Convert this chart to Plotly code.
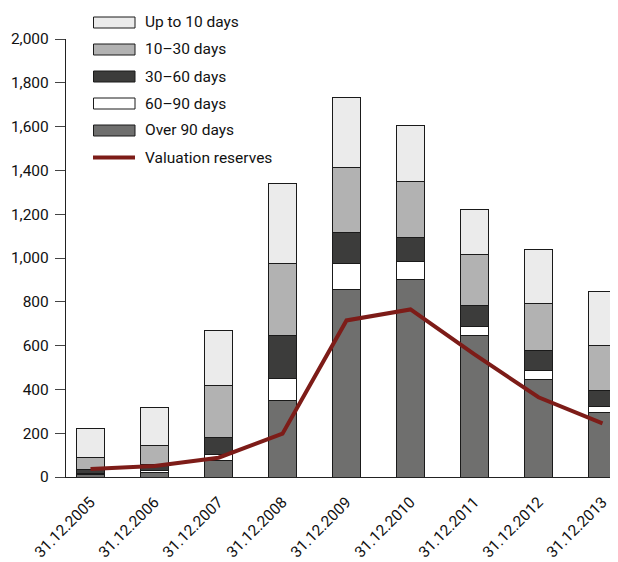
import plotly.graph_objects as go

categories = ["31.12.2005", "31.12.2006", "31.12.2007", "31.12.2008", "31.12.2009",
              "31.12.2010", "31.12.2011", "31.12.2012", "31.12.2013"]
over_90 = [12, 22, 75, 348, 857, 900, 647, 446, 294]
days_60_90 = [6, 6, 30, 103, 116, 83, 42, 39, 30]
days_30_60 = [18, 28, 76, 196, 142, 111, 93, 93, 73]
days_10_30 = [52, 87, 238, 326, 299, 254, 236, 215, 203]
up_to_10 = [132, 173, 248, 365, 317, 255, 204, 244, 245]
valuation_reserves = [37, 50, 88, 198, 715, 765, 560, 364, 245]

y_ticks = [0, 200, 400, 600, 800, 1000, 1200, 1400, 1600, 1800, 2000]

series = [
    ("Over 90 days", over_90, "#6f6f6e"),
    ("60–90 days", days_60_90, "#ffffff"),
    ("30–60 days", days_30_60, "#3c3c3b"),
    ("10–30 days", days_10_30, "#b2b2b2"),
    ("Up to 10 days", up_to_10, "#ebebeb"),
]
line_color = "#7d1c18"
FONT = "Roboto"

# page body has an 8px default margin, so the figure starts at (8, 8)
OFF = 8
W, H = 618 - OFF, 562 - OFF
ML, MR, MT = 66 - OFF, 0, 39 - OFF
PH = 438
MB = H - MT - PH
PW = W - ML - MR

x_idx = list(range(len(categories)))

fig = go.Figure()
for name, vals, col in series:
    fig.add_trace(go.Bar(
        x=x_idx, y=vals, name=name, width=0.45,
        marker=dict(color=col, line=dict(color="#1a1a1a", width=1)),
        showlegend=False,
    ))
fig.add_trace(go.Scatter(
    x=x_idx, y=valuation_reserves, mode="lines", name="Valuation reserves",
    line=dict(color=line_color, width=4), showlegend=False,
))

# custom legend, positions given in screen pixels of the reference
def px_x(px):
    return (px - OFF - ML) / PW

def px_y(py):
    return (MT + PH - (py - OFF)) / PH

legend_items = [("Up to 10 days", "#ebebeb"), ("10–30 days", "#b2b2b2"),
                ("30–60 days", "#3c3c3b"), ("60–90 days", "#ffffff"),
                ("Over 90 days", "#6f6f6e")]
shapes = []
annotations = []
y0 = 22.5
step = 27
for i, (lab, col) in enumerate(legend_items):
    cy = y0 + i * step
    shapes.append(dict(type="rect", xref="paper", yref="paper",
                       x0=px_x(93.5), x1=px_x(135), y0=px_y(cy - 5.5), y1=px_y(cy + 5.5),
                       fillcolor=col, line=dict(color="#1a1a1a", width=1)))
    annotations.append(dict(xref="paper", yref="paper", x=px_x(143), y=px_y(cy),
                            text=lab, showarrow=False, xanchor="left", yanchor="middle",
                            font=dict(family=FONT, size=15.5, color="#111111")))
cy = y0 + 5 * step
shapes.append(dict(type="line", xref="paper", yref="paper",
                   x0=px_x(93), x1=px_x(135), y0=px_y(cy), y1=px_y(cy),
                   line=dict(color=line_color, width=4)))
annotations.append(dict(xref="paper", yref="paper", x=px_x(143), y=px_y(cy),
                        text="Valuation reserves", showarrow=False, xanchor="left",
                        yanchor="middle", font=dict(family=FONT, size=15.5, color="#111111")))

fig.update_layout(
    width=W, height=H,
    margin=dict(l=ML, r=MR, t=MT, b=MB, pad=0, autoexpand=False),
    barmode="stack",
    plot_bgcolor="white", paper_bgcolor="white",
    font=dict(family=FONT, size=15, color="#111111"),
    shapes=shapes, annotations=annotations,
    showlegend=False,
)
fig.update_xaxes(
    range=[-0.383, 8.242], tickmode="array", tickvals=x_idx, ticktext=categories,
    tickangle=-45, showline=True, linecolor="#222222", linewidth=1.2,
    ticks="", showgrid=False, zeroline=False, ticklabelstandoff=9,
    automargin=False,
    tickfont=dict(family=FONT, size=15.5, color="#111111"),
)
fig.update_yaxes(
    range=[0, 2000], tickmode="array", tickvals=y_ticks,
    ticktext=[f"{v:,}" for v in y_ticks],
    showline=True, linecolor="#222222", linewidth=1.2,
    ticks="outside", ticklen=10, tickcolor="#444444", tickwidth=1,
    showgrid=False, zeroline=False, ticklabelstandoff=3, automargin=False,
    tickfont=dict(family=FONT, size=15.5, color="#111111"),
)

fig.write_html("out.html")
